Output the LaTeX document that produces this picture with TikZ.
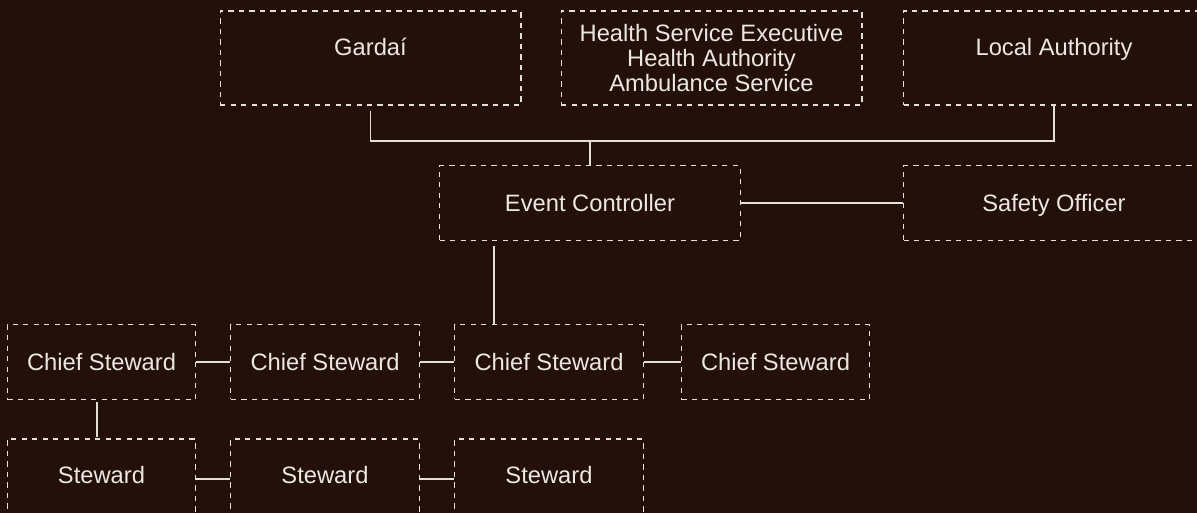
\documentclass[tikz,border=0pt]{standalone}
\usepackage{fontspec}
\setmainfont{Liberation Sans}
\usepackage{tikz}
\definecolor{bgbrown}{HTML}{23100A}
\definecolor{chalk}{HTML}{E6DED9}
\definecolor{paper}{HTML}{EDE7E3}
\tikzset{role/.style={draw=chalk,line width=0.6pt,dash pattern=on 0.105cm off 0.105cm,
                      text=paper,inner sep=0pt,
                      font=\fontsize{13.5pt}{14pt}\selectfont}}
\tikzset{shortrole/.style={role,minimum height=1.49cm,text height=0.34cm,text depth=0pt}}
\tikzset{tallrole/.style={role,minimum height=1.88cm,text height=0.34cm,text depth=0.44cm}}
\def\widerole{6.02cm}
\def\narrowrole{3.77cm}

\begin{document}
\begin{tikzpicture}[x=0.02cm,y=-0.02cm]
    \tikzstyle{link}=[draw=chalk,line width=0.8pt]
    \clip (0,0) rectangle (1197,513);
    \fill[bgbrown] (0,0) rectangle (1197,513);

    % agencies
    \node[tallrole,minimum width=\widerole] (gardai) at (370.5,58) {Gardaí};
    \node[role,minimum width=\widerole,minimum height=1.88cm,align=center] (hse) at (711.5,58)
        {Health Service Executive\\Health Authority\\Ambulance Service};
    \node[tallrole,minimum width=\widerole] (local) at (1054,58) {Local Authority};

    % control
    \node[shortrole,minimum width=\widerole] (ctrl) at (590,203) {Event Controller};
    \node[shortrole,minimum width=\widerole] (safety) at (1054,203) {Safety Officer};

    % stewards
    \foreach \x [count=\xi] in {101.5,325,549,775.5}{%
        \node[shortrole,minimum width=\narrowrole] (chief\xi) at (\x,362) {Chief Steward};
    }
    \foreach \x [count=\xi] in {101.5,325,549}{%
        \node[tallrole,minimum width=\narrowrole] (stew\xi) at (\x,486) {Steward};
    }

    % connectors
    \coordinate (hub) at (590,141);
    \draw[link,shorten <=3pt] (gardai.south) |- (hub) -| (local.south);
    \draw[link] (hub) -- (ctrl.north);
    \draw[link] (ctrl) -- (safety);
    \draw[link,shorten <=3pt] ([xshift=1.1cm]ctrl.south west) -- ([xshift=1.1cm]ctrl.south west |- chief3.north);
    \foreach \a/\b in {1/2,2/3,3/4}
        \draw[link] (chief\a) -- (chief\b);
    \draw[link,shorten <=1pt,shorten >=1pt] ([xshift=-0.09cm]chief1.south) -- ([xshift=-0.09cm]stew1.north);
    \foreach \a/\b in {1/2,2/3}
        \draw[link] (stew\a.mid east) -- (stew\b.mid west);
\end{tikzpicture}
\end{document}
